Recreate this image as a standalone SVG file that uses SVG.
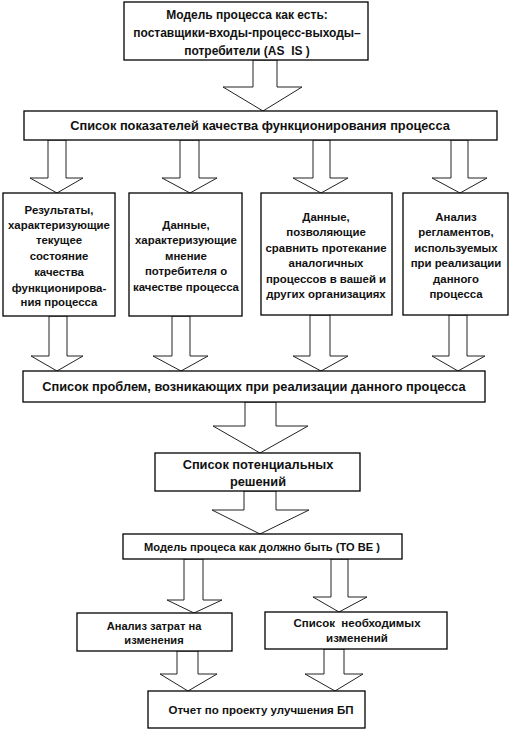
<svg xmlns="http://www.w3.org/2000/svg" width="510" height="729" viewBox="0 0 510 729">
<style>
.box{fill:#fff;stroke:#000;stroke-width:1.3}
.arr{fill:#fff;stroke:#222;stroke-width:1;stroke-linejoin:miter}
text{font-family:"Liberation Sans",Arial,sans-serif;font-weight:bold;font-size:11.4px;fill:#111;text-anchor:middle;white-space:pre}
.t12{font-size:12px}
.t128{font-size:12.8px}
.t111{font-size:11.1px}
.t115{font-size:11.5px}
</style>
<rect width="510" height="729" fill="#fff"/>
<g id="connectors">
<polygon class="arr" points="253,60 253,87 223,87 263,111 302,87 277,87 277,60"/>
<polygon class="arr" points="48,140 48,178 30,178 57,193 83,178 66,178 66,140"/>
<polygon class="arr" points="180,140 180,178 162,178 190,193 217,178 199,178 199,140"/>
<polygon class="arr" points="313,140 313,178 293,178 321,193 348,178 330,178 330,140"/>
<polygon class="arr" points="451,140 451,178 432,178 460,193 487,178 468,178 468,140"/>
<polygon class="arr" points="49,316 49,356 31,356 57,371 83,356 67,356 67,316"/>
<polygon class="arr" points="172,316 172,356 153,356 181,371 208,356 190,356 190,316"/>
<polygon class="arr" points="310,315 310,356 293,356 321,371 348,356 330,356 330,315"/>
<polygon class="arr" points="449,315 449,356 432,356 458,371 485,356 467,356 467,315"/>
<polygon class="arr" points="245,402 245,426 213,426 260,453 308,426 276,426 276,402"/>
<polygon class="arr" points="244,491 244,510 212,510 260,534 309,510 276,510 276,491"/>
<polygon class="arr" points="184,559 184,600 167,600 194,613 222,600 203,600 203,559"/>
<polygon class="arr" points="331,559 331,597 313,597 339,612 367,597 348,597 348,559"/>
<polygon class="arr" points="177,651 177,674 160,674 188,691 217,674 198,674 198,651"/>
<polygon class="arr" points="324,649 324,674 305,674 335,691 363,674 344,674 344,649"/>
</g>
<g id="as-is">
<rect class="box" x="124" y="2" width="244" height="58"/>
<text class="t12" x="247" y="19">Модель процесса как есть:</text>
<text class="t12" x="247" y="37">поставщики-входы-процесс-выходы–</text>
<text class="t12" x="247" y="55" xml:space="preserve">потребители (AS  IS )</text>
</g>
<g id="indicators">
<rect class="box" x="24" y="111" width="473" height="29"/>
<text class="t128" x="260" y="130">Список показателей качества функционирования процесса</text>
</g>
<g id="results">
<rect class="box" x="3" y="193" width="112" height="123"/>
<text x="59" y="214">Результаты,</text>
<text x="59" y="229">характеризующие</text>
<text x="59" y="244">текущее</text>
<text x="59" y="260">состояние</text>
<text x="59" y="276">качества</text>
<text x="59" y="292">функционирова-</text>
<text x="59" y="306">ния процесса</text>
</g>
<g id="consumer">
<rect class="box" x="129" y="193" width="113" height="123"/>
<text x="186" y="229">Данные,</text>
<text x="186" y="244">характеризующие</text>
<text x="186" y="260">мнение</text>
<text x="186" y="275">потребителя о</text>
<text x="186" y="291">качестве процесса</text>
</g>
<g id="compare">
<rect class="box" x="261" y="193" width="131" height="122"/>
<text x="326" y="221">Данные,</text>
<text x="326" y="236">позволяющие</text>
<text x="326" y="252">сравнить протекание</text>
<text x="326" y="267">аналогичных</text>
<text x="326" y="283">процессов в вашей и</text>
<text x="326" y="298">других организациях</text>
</g>
<g id="regulations">
<rect class="box" x="403" y="193" width="105" height="122"/>
<text x="456" y="221">Анализ</text>
<text x="456" y="236">регламентов,</text>
<text x="456" y="252">используемых</text>
<text x="456" y="267">при реализации</text>
<text x="456" y="283">данного</text>
<text x="456" y="298">процесса</text>
</g>
<g id="problems">
<rect class="box" x="23" y="371" width="462" height="31"/>
<text class="t128" x="254" y="391">Список проблем, возникающих при реализации данного процесса</text>
</g>
<g id="solutions">
<rect class="box" x="155" y="453" width="205" height="38"/>
<text class="t128" x="258" y="469">Список потенциальных</text>
<text class="t128" x="258" y="486">решений</text>
</g>
<g id="to-be">
<rect class="box" x="123" y="534" width="279" height="25"/>
<text class="t111" x="262" y="551" xml:space="preserve">Модель процеса как должно быть (TO BE )</text>
</g>
<g id="costs">
<rect class="box" x="77" y="613" width="155" height="38"/>
<text class="t111" x="154" y="630">Анализ затрат на</text>
<text class="t111" x="154" y="644">изменения</text>
</g>
<g id="changes">
<rect class="box" x="265" y="612" width="182" height="37"/>
<text class="t115" x="357" y="627" xml:space="preserve">Список  необходимых</text>
<text class="t115" x="357" y="642">изменений</text>
</g>
<g id="report">
<rect class="box" x="148" y="691" width="217" height="37"/>
<text class="t115" x="261" y="714">Отчет по проекту улучшения БП</text>
</g>
</svg>
